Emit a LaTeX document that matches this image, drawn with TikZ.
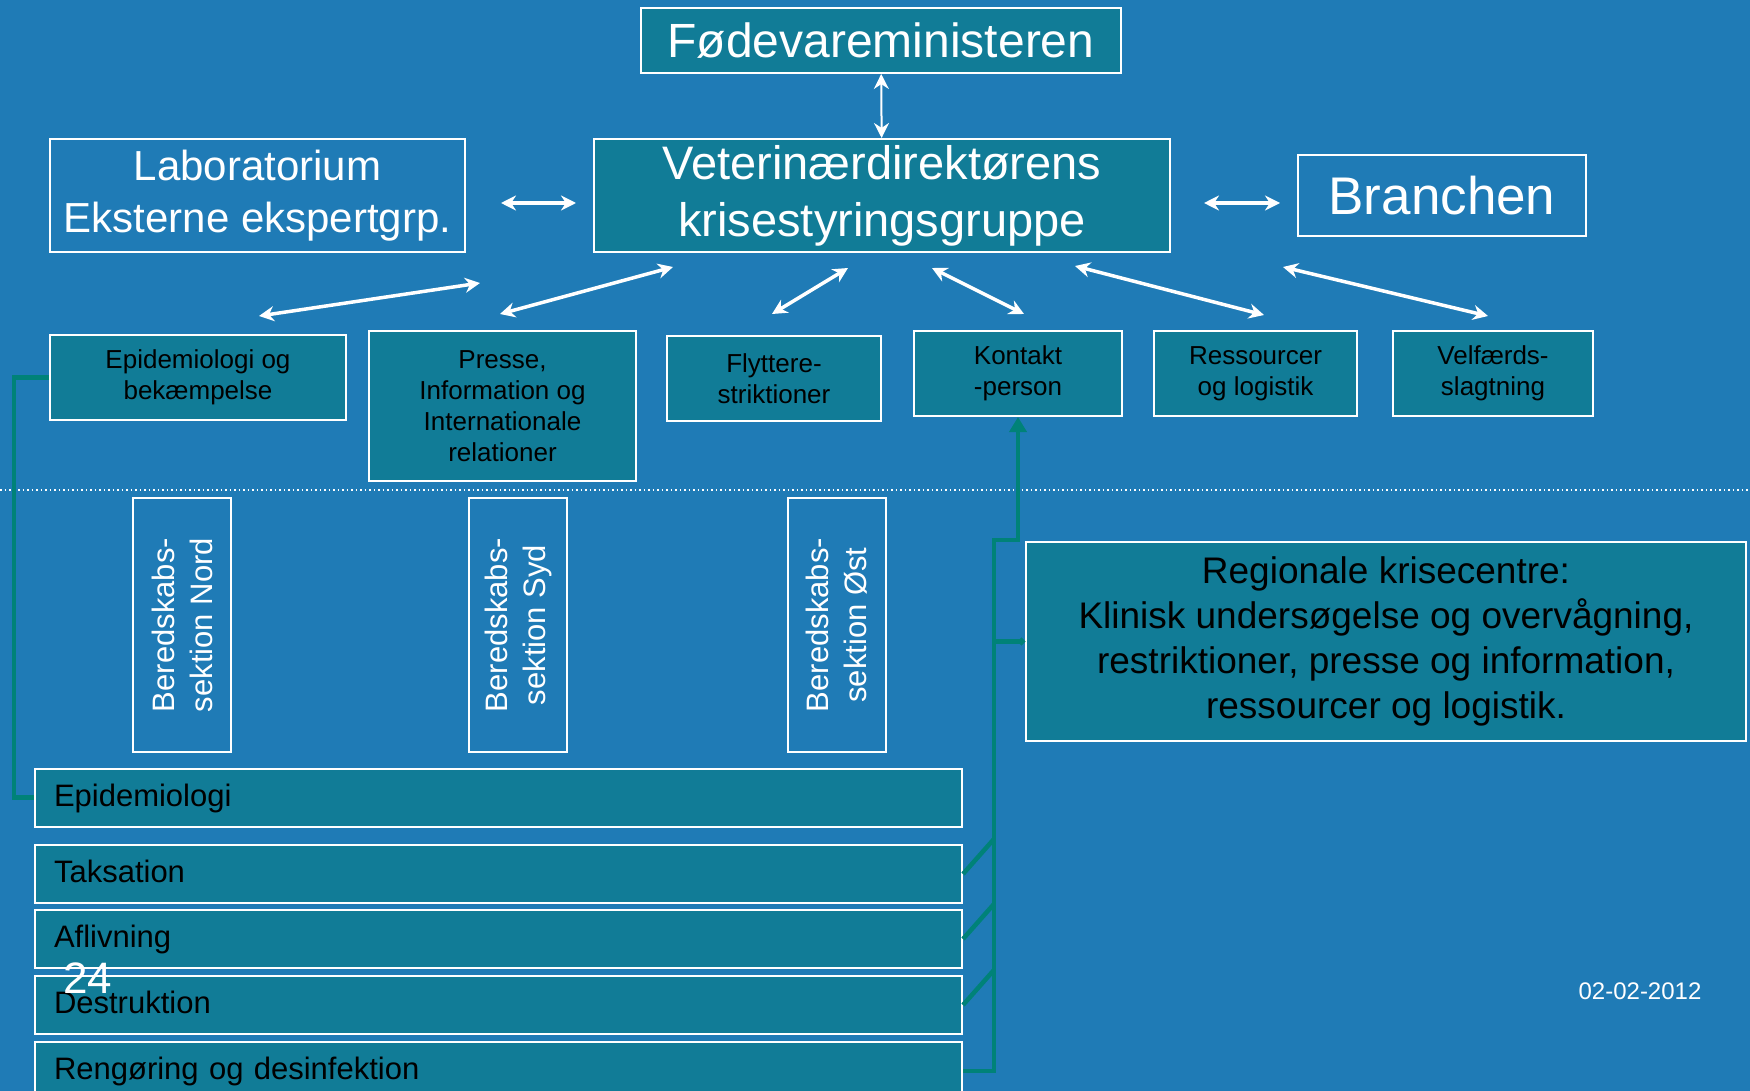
\documentclass[tikz,border=0pt]{standalone}
\usepackage{fontspec}
\setmainfont{Liberation Sans}
\usetikzlibrary{arrows.meta, positioning}
\definecolor{slidebg}{RGB}{31,123,182}
\definecolor{boxteal}{RGB}{17,124,151}
\definecolor{linkgreen}{RGB}{0,130,120}

\begin{document}
\begin{tikzpicture}[x=1pt, y=-1pt, node distance=5pt,
        box/.style={rectangle, draw=white, line width=2pt, inner sep=0pt, align=center},
        headbox/.style={box, fill=boxteal, text=white},
        openbox/.style={box, text=white},
        unitbox/.style={box, fill=boxteal, text=black, font=\fontsize{26}{31}\selectfont},
        bar/.style={box, fill=boxteal, text=black, text width=889pt, inner xsep=19pt, minimum height=58pt, text height=23pt, text depth=6pt, align=left, font=\fontsize{31}{36}\selectfont},
        biarrow/.style={{Stealth[length=15pt,width=15pt]}-{Stealth[length=15pt,width=15pt]}, white, line width=3.5pt},
        link/.style={linkgreen, line width=4.5pt}]
        \path[use as bounding box, fill=slidebg] (0,0) rectangle (1750,1091);
        \clip (0,0) rectangle (1750,1091);

        \draw[white, line width=1.5pt, dash pattern=on 1.5pt off 3pt] (0,490) -- (1750,490);

        \node (minister) [headbox, minimum width=480pt, minimum height=65pt, font=\fontsize{48}{56}\selectfont] at (881,40.5) {Fødevareministeren};
        \node (vet) [headbox, minimum width=576pt, minimum height=113pt, font=\fontsize{47}{57}\selectfont] at (882,195.5) {Veterinærdirektørens\\krisestyringsgruppe};
        \node (lab) [openbox, minimum width=415pt, minimum height=113pt, font=\fontsize{42}{52}\selectfont] at (257.5,195.5) {Laboratorium\\Eksterne ekspertgrp.};
        \node (branche) [openbox, minimum width=288pt, minimum height=81pt, font=\fontsize{53}{60}\selectfont] at (1442,195.5) {Branchen};

        \node (epibek) [unitbox, minimum width=296pt, minimum height=85pt] at (198,377.5) {Epidemiologi og\\bekæmpelse};
        \node (presse) [unitbox, minimum width=267pt, minimum height=150pt] at (502.5,406) {Presse,\\Information og\\Internationale\\relationer};
        \node (flyt) [unitbox, minimum width=214pt, minimum height=85pt] at (774,378.5) {Flyttere-\\striktioner};
        \node (kontakt) [unitbox, minimum width=208pt, minimum height=85pt] at (1018,373.5) {Kontakt\\-person};
        \node (ressource) [unitbox, minimum width=203pt, minimum height=85pt, right=30pt of kontakt] {Ressourcer\\og logistik};
        \node (velfaerd) [unitbox, minimum width=200pt, minimum height=85pt, right=34pt of ressource] {Velfærds-\\slagtning};

        \node (nord) [openbox, rotate=90, minimum width=254pt, minimum height=98pt, font=\fontsize{31}{38}\selectfont] at (182,625) {Beredskabs-\\sektion Nord};
        \node (syd) [openbox, rotate=90, minimum width=254pt, minimum height=98pt, font=\fontsize{31}{38}\selectfont] at (518,625) {Beredskabs-\\sektion Syd};
        \node (oest) [openbox, rotate=90, minimum width=254pt, minimum height=98pt, font=\fontsize{31}{38}\selectfont] at (837,625) {Beredskabs-\\sektion Øst};

        \node (region) [box, fill=boxteal, text=black, minimum width=720pt, minimum height=199pt, font=\fontsize{37}{45}\selectfont] at (1386,641.5) {Regionale krisecentre:\\Klinisk undersøgelse og overvågning,\\restriktioner, presse og information,\\ressourcer og logistik.};

        \node (epi) [bar] at (498.5,797.5) {Epidemiologi};
        \node (taks) [bar] at (498.5,874) {Taksation};
        \node (afliv) [bar, below=5pt of taks] {Aflivning};
        \node (destr) [bar, below=6pt of afliv] {Destruktion};
        \node (reng) [bar, below=6pt of destr] {Rengøring og desinfektion};

        \node (pagenum) [text=white, font=\fontsize{44}{50}\selectfont] at (87.5,978.5) {24};
        \node (dato) [text=white, font=\fontsize{24}{28}\selectfont] at (1640,991.5) {02-02-2012};

        \draw[biarrow, line width=2pt] (minister) -- (vet);
        \draw[biarrow, shorten <=35pt, shorten >=17pt] ([yshift=-7.5pt]lab.east) -- ([yshift=-7.5pt]vet.west);
        \draw[biarrow, shorten <=33pt, shorten >=17pt] ([yshift=-7.5pt]vet.east) -- ([yshift=-7.5pt]branche.west);

        \coordinate (v1) at (480,283);
        \coordinate (v2) at (673,267);
        \coordinate (v3) at (848,268);
        \coordinate (v4) at (932,268);
        \coordinate (v5) at (1075,266);
        \coordinate (v6) at (1283,267);
        \coordinate (u1) at (259,316);
        \coordinate (u2) at (500,314);
        \coordinate (u3) at (772,314);
        \coordinate (u4) at (1024,314);
        \coordinate (u5) at (1264,315);
        \coordinate (u6) at (1488,316);
        \foreach \i in {1,...,6}
            \draw[biarrow] (v\i) -- (u\i);

        \coordinate (trunk) at (994,540);
        \draw[link] (epibek.west) -- ++(-35,0) |- (epi.west);
        \draw[link, -{Triangle[length=15pt,width=17pt]}] (reng.east) -| (trunk) -| (kontakt.south);
        \draw[link, -{Circle[length=7pt]}] (trunk |- region.west) -- (region.west);
        \foreach \b in {taks,afliv,destr}
            \draw[link] (\b.east) -- ([yshift=35pt]trunk |- \b.east);
    \end{tikzpicture}
\end{document}
